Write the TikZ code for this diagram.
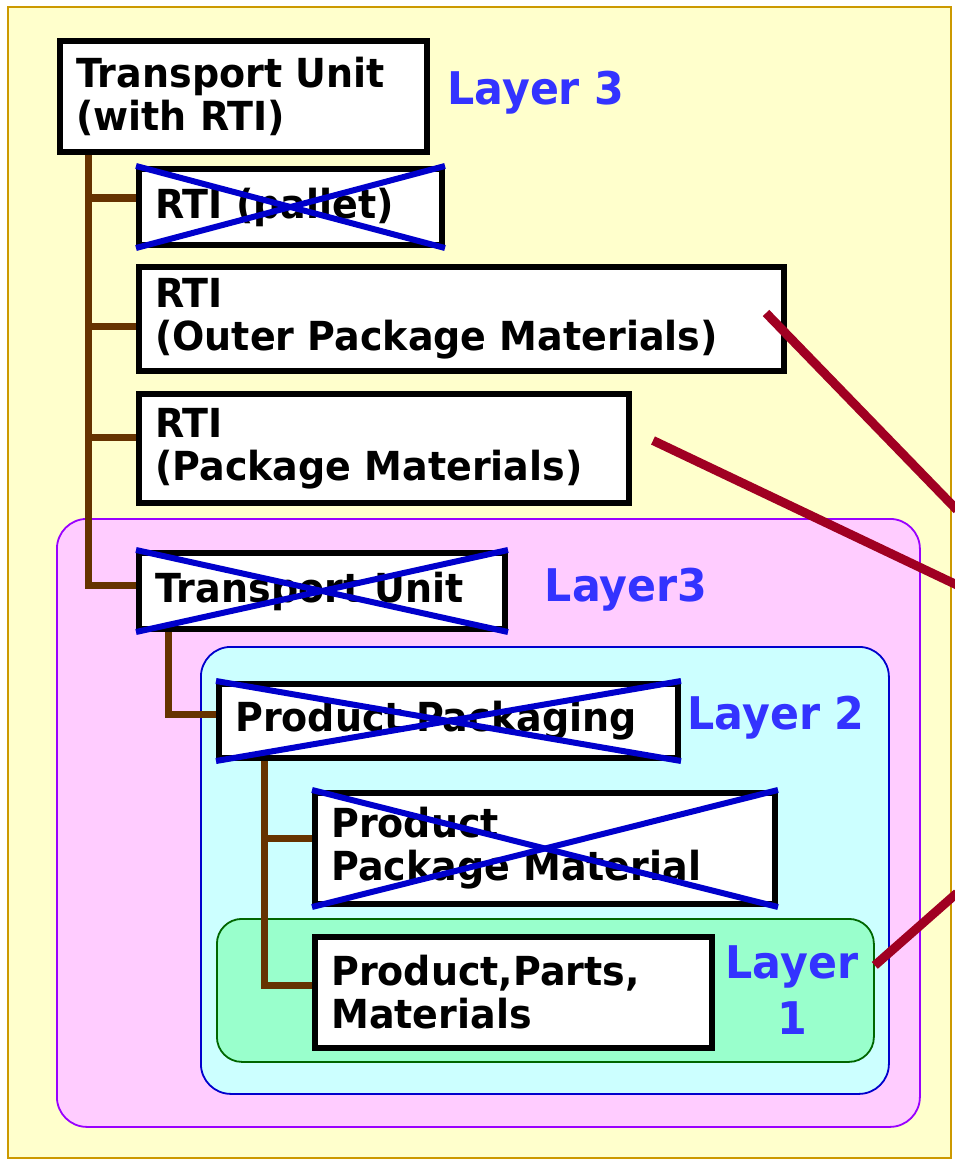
\documentclass[tikz,border=0pt]{standalone}
\usepackage{fontspec}
\setmainfont{DejaVu Sans}[FakeStretch=0.95]
\usetikzlibrary{calc}

\definecolor{pagebg}{HTML}{FFFFCC}
\definecolor{pageborder}{HTML}{CC9900}
\definecolor{pinkbg}{HTML}{FFCCFF}
\definecolor{pinkborder}{HTML}{9900FF}
\definecolor{cyanbg}{HTML}{CCFFFF}
\definecolor{cyanborder}{HTML}{0000CC}
\definecolor{greenbg}{HTML}{99FFCC}
\definecolor{greenborder}{HTML}{006600}
\definecolor{treebrown}{HTML}{663300}
\definecolor{crossblue}{HTML}{0000CC}
\definecolor{layerblue}{HTML}{3333FF}
\definecolor{linkred}{HTML}{A00022}

% item box: name, x1, y1, x2, y2 (border centre line), text
\newcommand\placebox[6]{%
  \node[itembox, minimum width=#4-#2, minimum height=#5-#3, anchor=north west] (#1) at (#2,#3) {};
  \node[boxtext] (#1-t) at ($(#1.west)+(19,0)$) {#6};
}
% rounded layer region: name, x1, y1, x2, y2, style
\newcommand\placeregion[6]{%
  \node[region, #6, minimum width=#4-#2, minimum height=#5-#3, anchor=north west] (#1) at (#2,#3) {};
}
\newcommand\crossout[1]{%
  \draw[cross] (#1.north west) -- (#1.south east);
  \draw[cross] (#1.south west) -- (#1.north east);
}

\begin{document}
\begin{tikzpicture}[x=1pt,y=-1pt,
  every node/.style={font=\fontsize{40}{43}\selectfont\bfseries},
  itembox/.style={draw=black, line width=6pt, fill=white, rectangle, inner sep=0pt},
  boxtext/.style={anchor=west, align=left, inner sep=0pt, text=black},
  cross/.style={draw=crossblue, line width=6pt},
  tree/.style={draw=treebrown, line width=7pt},
  link/.style={draw=linkred, line width=9pt},
  layertext/.style={text=layerblue, align=center, inner sep=0pt,
    font=\fontsize{45}{56}\selectfont\bfseries},
  region/.style={rectangle, rounded corners=30pt, line width=1.8pt, inner sep=0pt},
]
\useasboundingbox (0,0) rectangle (955,1161);

% page
\draw[fill=pagebg, draw=pageborder, line width=2.5pt] (8,7) rectangle (951,1158);

% layer regions
\placeregion{pinkreg}{56}{518}{919}{1126}{fill=pinkbg, draw=pinkborder}
\placeregion{cyanreg}{200}{646}{888}{1093}{fill=cyanbg, draw=cyanborder}
\placeregion{greenreg}{216}{918}{873}{1061}{fill=greenbg, draw=greenborder, rounded corners=25pt}

% boxes
\placebox{tu}{57}{38}{424}{149}{Transport Unit\\(with RTI)}
\placebox{pallet}{136}{166}{439}{242}{RTI (pallet)}
\placebox{outer}{136}{264}{781}{368}{RTI\\(Outer Package Materials)}
\placebox{pack}{136}{391}{626}{500}{RTI\\(Package Materials)}
\placebox{tu2}{136}{550}{502}{626}{Transport Unit}
\placebox{pp}{216}{681}{675}{755}{Product Packaging}
\placebox{ppm}{312}{790}{772}{901}{Product\\Package Material}
\placebox{parts}{312}{934}{709}{1045}{Product,Parts,\\Materials}

% crossed-out boxes
\crossout{pallet}
\crossout{tu2}
\crossout{pp}
\crossout{ppm}

% layer labels
\node[layertext] (l3a) at (536,93) {Layer 3};
\node[layertext] (l3b) at (626,590) {Layer3};
\node[layertext] (l2) at (776,718) {Layer 2};
\node[layertext] (l1) at (792,990) {Layer\\1};

% tree connectors
\coordinate (trA) at (88,0);
\coordinate (trB) at (168,0);
\coordinate (trC) at (264,0);
\draw[tree] (tu.south -| trA) |- ($(tu2.west)+(0,-6)$);
\draw[tree] (trA |- 0,198) -- (pallet.west |- 0,198);
\draw[tree] (trA |- 0,326) -- (outer.west |- 0,326);
\draw[tree] (trA |- 0,437) -- (pack.west |- 0,437);
\draw[tree] (tu2.south -| trB) |- ($(pp.west)+(0,-7)$);
\draw[tree] (pp.south -| trC) |- ($(parts.west)+(0,-7)$);
\draw[tree] (trC |- 0,838) -- (ppm.west |- 0,838);

% links leaving the page
\coordinate (endA) at (957,510);
\coordinate (endB) at (957,585);
\coordinate (endC) at (957,893);
\draw[link] ($(outer.east)+(-21,-6)$) -- (endA);
\draw[link] ($(pack.east)+(21,-8)$) -- (endB);
\draw[link] ($(greenreg.east)+(0,-25)$) -- (endC);
\end{tikzpicture}
\end{document}
